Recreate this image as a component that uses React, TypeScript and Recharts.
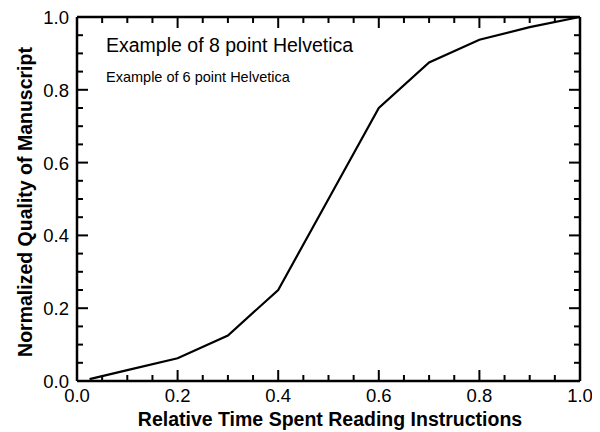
import React from "react";
import { LineChart, Line, XAxis, YAxis } from "recharts";

// relative time spent reading instructions
const timeSpent = [0.025, 0.1, 0.2, 0.3, 0.4, 0.5, 0.6, 0.7, 0.8, 0.9, 1.0];
// normalized quality of manuscript
const quality = [0.005, 0.03, 0.0625, 0.125, 0.25, 0.5, 0.75, 0.875, 0.9375, 0.972, 1.0];

const axisTicks = [
  0, 0.05, 0.1, 0.15, 0.2, 0.25, 0.3, 0.35, 0.4, 0.45, 0.5, 0.55, 0.6, 0.65,
  0.7, 0.75, 0.8, 0.85, 0.9, 0.95, 1.0,
];
const majorTicks = [0, 0.2, 0.4, 0.6, 0.8, 1.0];

const data = timeSpent.map((t, i) => ({ t, q: quality[i] }));

const FONT = "'Liberation Sans', Arial, Helvetica, sans-serif";
const TICK_FONT = 18.5;
const MAJOR = 11;
const MINOR = 6;

const isMajor = (v: number) => majorTicks.some((m) => Math.abs(m - v) < 1e-6);

const BottomTick = ({ x, y, payload }: any) => {
  const major = isMajor(payload.value);
  return (
    <g>
      <line x1={x} y1={y} x2={x} y2={y - (major ? MAJOR : MINOR)} stroke="#000" strokeWidth={2} />
      {major && (
        <text x={x} y={y + 21} textAnchor="middle" fontSize={TICK_FONT} fontFamily={FONT} fill="#000">
          {payload.value.toFixed(1)}
        </text>
      )}
    </g>
  );
};

const TopTick = ({ x, y, payload }: any) => {
  const major = isMajor(payload.value);
  return <line x1={x} y1={y} x2={x} y2={y + (major ? MAJOR : MINOR)} stroke="#000" strokeWidth={2} />;
};

const LeftTick = ({ x, y, payload }: any) => {
  const major = isMajor(payload.value);
  return (
    <g>
      <line x1={x} y1={y} x2={x + (major ? MAJOR : MINOR)} y2={y} stroke="#000" strokeWidth={2} />
      {major && (
        <text x={x - 8} y={y + 7} textAnchor="end" fontSize={TICK_FONT} fontFamily={FONT} fill="#000">
          {payload.value.toFixed(1)}
        </text>
      )}
    </g>
  );
};

const RightTick = ({ x, y, payload }: any) => {
  const major = isMajor(payload.value);
  return <line x1={x} y1={y} x2={x - (major ? MAJOR : MINOR)} y2={y} stroke="#000" strokeWidth={2} />;
};

const axisLine = { stroke: "#000", strokeWidth: 2.5 };

export default function App() {
  return (
    <div style={{ width: 592, height: 424, background: "#fff" }}>
      <LineChart
        width={592}
        height={424}
        data={data}
        margin={{ top: 8, right: 19, bottom: 50, left: 68 }}
      >
        <XAxis
          xAxisId="bottom"
          dataKey="t"
          type="number"
          domain={[0, 1]}
          ticks={axisTicks}
          interval={0}
          height={1}
          tickSize={0}
          tickMargin={0}
          tickLine={false}
          tick={<BottomTick />}
          axisLine={axisLine}
          allowDataOverflow
        />
        <XAxis
          xAxisId="top"
          orientation="top"
          dataKey="t"
          type="number"
          domain={[0, 1]}
          ticks={axisTicks}
          interval={0}
          height={1}
          tickSize={0}
          tickMargin={0}
          tickLine={false}
          tick={<TopTick />}
          axisLine={axisLine}
          allowDataOverflow
        />
        <YAxis
          yAxisId="left"
          type="number"
          domain={[0, 1]}
          ticks={axisTicks}
          interval={0}
          width={1}
          tickSize={0}
          tickMargin={0}
          tickLine={false}
          tick={<LeftTick />}
          axisLine={axisLine}
          allowDataOverflow
        />
        <YAxis
          yAxisId="right"
          orientation="right"
          type="number"
          domain={[0, 1]}
          ticks={axisTicks}
          interval={0}
          width={1}
          tickSize={0}
          tickMargin={0}
          tickLine={false}
          tick={<RightTick />}
          axisLine={axisLine}
          allowDataOverflow
        />
        <Line
          xAxisId="bottom"
          yAxisId="left"
          dataKey="q"
          type="linear"
          stroke="#000"
          strokeWidth={2.2}
          dot={false}
          isAnimationActive={false}
        />
        <Line
          xAxisId="top"
          yAxisId="right"
          dataKey="q"
          type="linear"
          stroke="none"
          dot={false}
          legendType="none"
          isAnimationActive={false}
        />
        <text x={98} y={44} fontSize={19.5} fontFamily={FONT} fill="#000">
          Example of 8 point Helvetica
        </text>
        <text x={98} y={74} fontSize={14.5} fontFamily={FONT} fill="#000">
          Example of 6 point Helvetica
        </text>
        <text
          x={322}
          y={418}
          textAnchor="middle"
          fontSize={19.5}
          fontWeight="bold"
          fontFamily={FONT}
          fill="#000"
        >
          Relative Time Spent Reading Instructions
        </text>
        <text
          x={24}
          y={194}
          textAnchor="middle"
          fontSize={19.5}
          fontWeight="bold"
          fontFamily={FONT}
          fill="#000"
          transform="rotate(-90 24 194)"
        >
          Normalized Quality of Manuscript
        </text>
      </LineChart>
    </div>
  );
}
